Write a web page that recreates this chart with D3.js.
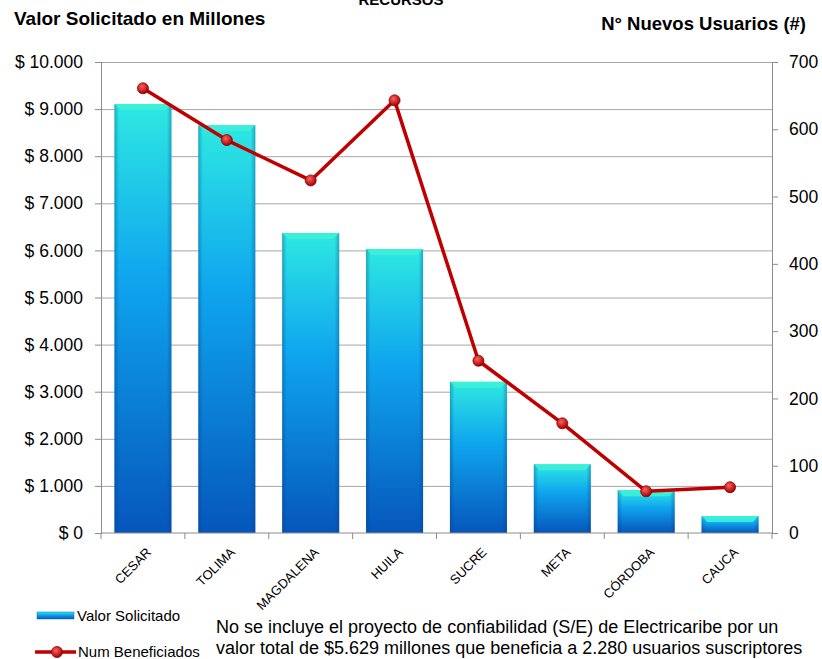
<!DOCTYPE html>
<meta charset="utf-8">
<style>
body { margin: 0; background: #fff; }
text { font-family: "Liberation Sans", Arial, sans-serif; fill: #000; }
.grid line { stroke: #a6a6a6; stroke-width: 1; }
.axis path, .axis line { stroke: #8c8c8c; }
</style>
<svg width="822" height="659"></svg>
<script src="https://d3js.org/d3.v7.min.js"></script>
<script>

// data
var categorias = ["CESAR", "TOLIMA", "MAGDALENA", "HUILA", "SUCRE", "META", "CÓRDOBA", "CAUCA"];
var valorSolicitado = [9110, 8660, 6370, 6030, 3210, 1460, 910, 360];
var numBeneficiados = [661, 584, 524, 643, 256, 163, 62, 68];
var ticksIzq = [0, 1000, 2000, 3000, 4000, 5000, 6000, 7000, 8000, 9000, 10000];
var ticksDer = [0, 100, 200, 300, 400, 500, 600, 700];

var svg = d3.select("svg");

var margin = {top: 62, right: 50, bottom: 126, left: 101};
var width = 822 - margin.left - margin.right,
    height = 659 - margin.top - margin.bottom;

var x = d3.scaleBand().domain(categorias).range([0, width]).paddingInner(0.32).paddingOuter(0.16);
var xTick = d3.scaleLinear().domain([0, categorias.length]).range([0, width]);
var yIzq = d3.scaleLinear().domain([0, 10000]).range([height, 0]);
var yDer = d3.scaleLinear().domain([0, 700]).range([height, 0]);

// gradients
var defs = svg.append("defs");
var gBar = defs.append("linearGradient").attr("id", "barGrad")
    .attr("x1", 0).attr("y1", 0).attr("x2", 0).attr("y2", 1);
gBar.append("stop").attr("offset", "0%").attr("stop-color", "#2ee8e2");
gBar.append("stop").attr("offset", "40%").attr("stop-color", "#0fa6ee");
gBar.append("stop").attr("offset", "100%").attr("stop-color", "#0656bb");

var gSide = defs.append("linearGradient").attr("id", "sideGrad")
    .attr("x1", 0).attr("y1", 0).attr("x2", 1).attr("y2", 0);
gSide.append("stop").attr("offset", "0%").attr("stop-color", "#003a80").attr("stop-opacity", 0.35);
gSide.append("stop").attr("offset", "8%").attr("stop-color", "#003a80").attr("stop-opacity", 0);
gSide.append("stop").attr("offset", "92%").attr("stop-color", "#003a80").attr("stop-opacity", 0);
gSide.append("stop").attr("offset", "100%").attr("stop-color", "#003a80").attr("stop-opacity", 0.35);

var gDot = defs.append("radialGradient").attr("id", "dotGrad")
    .attr("cx", "40%").attr("cy", "35%").attr("r", "65%");
gDot.append("stop").attr("offset", "0%").attr("stop-color", "#ff6060");
gDot.append("stop").attr("offset", "100%").attr("stop-color", "#a00000");

var g = svg.append("g").attr("transform", "translate(" + margin.left + "," + margin.top + ")");

// gridlines
g.append("g").attr("class", "grid")
  .selectAll("line")
  .data(ticksIzq.slice(1))
  .enter().append("line")
    .attr("x1", 0).attr("x2", width)
    .attr("y1", function(d) { return yIzq(d) + 0.5; })
    .attr("y2", function(d) { return yIzq(d) + 0.5; });

// bars
var bars = g.append("g").selectAll("g")
  .data(valorSolicitado)
  .enter().append("g")
    .attr("transform", function(d, i) { return "translate(" + x(categorias[i]) + "," + yIzq(d) + ")"; });

bars.append("rect")
    .attr("width", x.bandwidth())
    .attr("height", function(d) { return height - yIzq(d); })
    .attr("fill", "url(#barGrad)");
bars.append("rect")
    .attr("width", x.bandwidth())
    .attr("height", function(d) { return height - yIzq(d); })
    .attr("fill", "url(#sideGrad)");
// bevel on top
bars.append("path")
    .attr("d", function() {
      var w = x.bandwidth();
      return "M0,0H" + w + "L" + (w - 6) + ",6H6Z";
    })
    .attr("fill", "#3ef0d8").attr("opacity", 0.9);

// axes
var axIzq = g.append("g").attr("class", "axis")
    .call(d3.axisLeft(yIzq).tickValues(ticksIzq).tickSize(6).tickPadding(12)
      .tickFormat(function(d) { return "$ " + d3.format(",")(d).replace(/,/g, "."); }));
axIzq.selectAll("text").style("font-size", "17.5px").attr("fill", "#000");

var axDer = g.append("g").attr("class", "axis")
    .attr("transform", "translate(" + width + ",0)")
    .call(d3.axisRight(yDer).tickValues(ticksDer).tickSize(6).tickPadding(11));
axDer.selectAll("text").style("font-size", "17.5px").attr("fill", "#000");

var axX = g.append("g").attr("class", "axis")
    .attr("transform", "translate(0," + height + ")");
axX.append("line").attr("x1", 0).attr("x2", width).attr("stroke", "#8c8c8c");
axX.selectAll(".tk")
  .data(d3.range(categorias.length + 1))
  .enter().append("line")
    .attr("x1", function(d) { return xTick(d); })
    .attr("x2", function(d) { return xTick(d); })
    .attr("y1", 0).attr("y2", 6)
    .attr("stroke", "#8c8c8c");
axX.selectAll(".lbl")
  .data(categorias)
  .enter().append("text")
    .attr("transform", function(d) {
      return "translate(" + (x(d) + x.bandwidth() / 2 + 9) + ",20) rotate(-45)";
    })
    .attr("text-anchor", "end")
    .style("font-size", "13px")
    .text(function(d) { return d; });

// line
var line = d3.line()
    .x(function(d, i) { return x(categorias[i]) + x.bandwidth() / 2; })
    .y(function(d) { return yDer(d); });

g.append("path")
    .datum(numBeneficiados)
    .attr("d", line)
    .attr("fill", "none")
    .attr("stroke", "#c00000")
    .attr("stroke-width", 3.5)
    .attr("stroke-linejoin", "round");

g.selectAll(".dot")
  .data(numBeneficiados)
  .enter().append("circle")
    .attr("cx", function(d, i) { return x(categorias[i]) + x.bandwidth() / 2; })
    .attr("cy", function(d) { return yDer(d); })
    .attr("r", 5.5)
    .attr("fill", "url(#dotGrad)")
    .attr("stroke", "#900000")
    .attr("stroke-width", 0.8);

// titles
svg.append("text").attr("x", 401).attr("y", 5).attr("text-anchor", "middle")
    .style("font-weight", "bold").style("font-size", "15px").text("RECURSOS");
svg.append("text").attr("x", 14).attr("y", 25)
    .style("font-weight", "bold").style("font-size", "19px").text("Valor Solicitado en Millones");
svg.append("text").attr("x", 806).attr("y", 30).attr("text-anchor", "end")
    .style("font-weight", "bold").style("font-size", "18.5px").text("N° Nuevos Usuarios (#)");

// legend
var leg = svg.append("g");
leg.append("rect").attr("x", 37).attr("y", 612).attr("width", 37).attr("height", 7)
    .attr("fill", "url(#barGrad)").attr("stroke", "#0a70c8").attr("stroke-width", 0.5);
leg.append("text").attr("x", 77).attr("y", 621).style("font-size", "15px").text("Valor Solicitado");
leg.append("line").attr("x1", 35).attr("x2", 76).attr("y1", 652).attr("y2", 652)
    .attr("stroke", "#c00000").attr("stroke-width", 3.5);
leg.append("circle").attr("cx", 57).attr("cy", 652).attr("r", 5.5).attr("fill", "url(#dotGrad)")
    .attr("stroke", "#900000").attr("stroke-width", 0.8);
leg.append("text").attr("x", 78).attr("y", 657).style("font-size", "15px").text("Num Beneficiados");

// note
svg.append("text").attr("x", 216).attr("y", 633).style("font-size", "18px")
    .text("No se incluye el proyecto de confiabilidad (S/E) de Electricaribe por un");
svg.append("text").attr("x", 216).attr("y", 654).style("font-size", "18px")
    .text("valor total de  $5.629 millones que beneficia a 2.280 usuarios suscriptores");

</script>
